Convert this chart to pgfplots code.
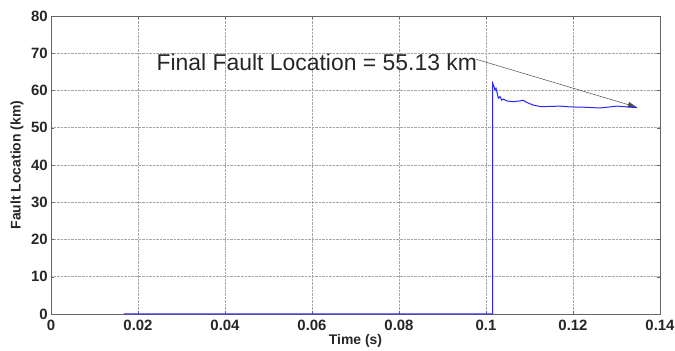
\documentclass[border=0pt]{standalone}
\usepackage{pgfplots}
\pgfplotsset{compat=1.18}
\usetikzlibrary{arrows.meta}
\usepackage{fontspec}
\setmainfont{Liberation Sans}
\begin{document}
\begin{tikzpicture}[x=1bp,y=1bp]
\begin{axis}[
  set layers,
  scale only axis,
  width=609bp, height=298bp,
  xmin=0, xmax=0.14, ymin=0, ymax=80,
  xtick={0,0.02,...,0.14},
  xticklabels={0,0.02,0.04,0.06,0.08,0.1,0.12,0.14},
  ytick={0,10,...,80},
  grid=major,
  major grid style={densely dotted, gray!70, line width=0.5pt},
  axis line style={gray!80!black, line width=0.6pt},
  tick style={gray!80!black},
  major tick length=3bp,
  tick align=inside,
  every tick label/.style={font=\fontsize{15}{17}\selectfont\bfseries, text=black!85},
  /pgf/number format/assume math mode=true,
  xlabel={Time (s)},
  ylabel={Fault Location (km)},
  xlabel style={font=\fontsize{14}{16}\selectfont\bfseries, text=black!85, at={(axis description cs:0.5,0)}, anchor=center, yshift=-27bp},
  ylabel style={font=\fontsize{14}{16}\selectfont\bfseries, text=black!85, at={(axis description cs:-0.0558,0.5)}, anchor=center},
  xticklabel style={inner sep=0pt, anchor=north, yshift=-6bp},
  yticklabel style={inner sep=0pt, anchor=east, xshift=-3bp},
  clip=false,
]
\addplot[blue!85, line width=1pt, on layer=axis foreground] coordinates {
(0.01678,0) (0.10154,0) (0.10154,61.9) (0.10184,61.0) (0.10207,60.1) (0.10230,60.6)
(0.10260,59.2) (0.10283,57.9) (0.10322,58.4) (0.10361,57.4) (0.10398,57.7)
(0.10476,57.2) (0.10621,57.0) (0.10782,57.2) (0.10851,57.4) (0.10936,56.8)
(0.11080,56.1) (0.11241,55.7) (0.11395,55.7) (0.11701,55.8) (0.11931,55.6)
(0.12276,55.5) (0.12621,55.3) (0.13011,55.8) (0.13241,55.6) (0.13471,55.4)
};
\draw[-{Latex[length=9bp,width=6bp]}, black!70, line width=0.5pt] (axis cs:0.0977,68.4) -- (axis cs:0.1347,55.5);
\node[anchor=east, font=\fontsize{23}{25}\selectfont, text=black!85, inner sep=1bp] at (axis cs:0.0982,67.6) {Final Fault Location = 55.13 km};
\end{axis}
\path (current axis.south west) ++(-51bp,-35.5bp) coordinate (bbA);
\path (current axis.north east) ++(15bp,16bp) coordinate (bbB);
\useasboundingbox (bbA) rectangle (bbB);
\end{tikzpicture}
\end{document}
